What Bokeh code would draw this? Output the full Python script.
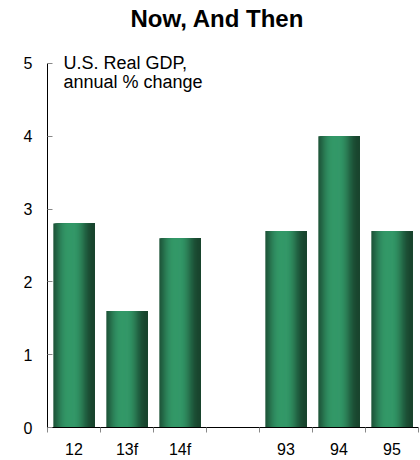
import numpy as np
from bokeh.plotting import figure
from bokeh.models import FixedTicker, Label, Range1d, ColumnDataSource, Title
from bokeh.embed import file_html
from bokeh.resources import INLINE

# ---- data ----
categories = ["12", "13f", "14f", "", "93", "94", "95"]
gdp_change = [2.8, 1.6, 2.6, None, 2.7, 4.0, 2.7]
y_ticks = [0, 1, 2, 3, 4, 5]
chart_title = "Now, And Then"
note_lines = ["U.S. Real GDP,", "annual % change"]

# ---- style ----
FONT = "Liberation Sans"
BAR_WIDTH = 0.78
N_STRIPES = 40
DARK = np.array([24, 66, 44])
LIGHT = np.array([51, 152, 104])
Y_MAX = 5
Y_HEADROOM = 0.15  # room above the axis top so the note text is not clipped


def shade(t):
    w = np.exp(-np.abs((t - 0.42) / 0.36) ** 3)
    c = DARK + (LIGHT - DARK) * w
    return "#%02x%02x%02x" % tuple(int(round(v)) for v in c)


left, right, top, colors = [], [], [], []
for i, v in enumerate(gdp_change):
    if v is None:
        continue
    x0 = i + 0.5 - BAR_WIDTH / 2
    x1 = i + 0.5 + BAR_WIDTH / 2
    for k in range(N_STRIPES):
        t = (k + 0.5) / N_STRIPES
        left.append(x0 + k * BAR_WIDTH / N_STRIPES)
        right.append(x1)
        top.append(v)
        colors.append(shade(t))

src = ColumnDataSource(dict(left=left, right=right, top=top, bottom=[0] * len(top), color=colors))

x_range = Range1d(0, len(categories))
y_range = Range1d(0, Y_MAX + Y_HEADROOM)
p = figure(width=420, height=460, output_backend="svg", toolbar_location=None, title=None,
           x_range=x_range, y_range=y_range,
           min_border_left=47, min_border_right=2, min_border_top=52, min_border_bottom=30)

p.quad(left="left", right="right", bottom="bottom", top="top", fill_color="color",
       line_color=None, source=src)

# spacer between the plotting area and the title
p.add_layout(Title(text=" ", text_font_size="10px", standoff=8), "above")
p.add_layout(Title(text=chart_title, align="left", offset=83, standoff=0,
                   text_font=FONT, text_font_size="24px", text_font_style="bold",
                   text_color="black"), "above")

p.grid.visible = False
p.outline_line_color = None
p.background_fill_color = "white"
p.border_fill_color = "white"

xa = p.xaxis[0]
xa.ticker = FixedTicker(ticks=[i + 0.5 for i in range(len(categories))],
                        minor_ticks=list(range(len(categories) + 1)))
xa.major_label_overrides = {i + 0.5: c for i, c in enumerate(categories)}
xa.major_tick_in = 0
xa.major_tick_out = 0
xa.minor_tick_in = 0
xa.minor_tick_out = 5
xa.minor_tick_line_color = "#888888"
xa.axis_line_color = "black"
xa.major_label_standoff = 8
xa.major_label_text_font = FONT
xa.major_label_text_font_size = "16px"
xa.major_label_text_color = "black"

ya = p.yaxis[0]
ya.ticker = FixedTicker(ticks=y_ticks)
ya.bounds = (0, Y_MAX)
ya.major_tick_in = 5
ya.major_tick_out = 0
ya.major_tick_line_color = "#888888"
ya.minor_tick_line_color = None
ya.axis_line_color = "black"
ya.major_label_standoff = 15
ya.major_label_text_font = FONT
ya.major_label_text_font_size = "16px"
ya.major_label_text_color = "black"

for j, line in enumerate(note_lines):
    p.add_layout(Label(x=0.3, y=Y_MAX, y_offset=0.5 - 19 * j, text=line, text_baseline="alphabetic",
                       text_font=FONT, text_font_size="18px", text_color="black"))

open("out.html", "w").write(file_html(p, INLINE))
